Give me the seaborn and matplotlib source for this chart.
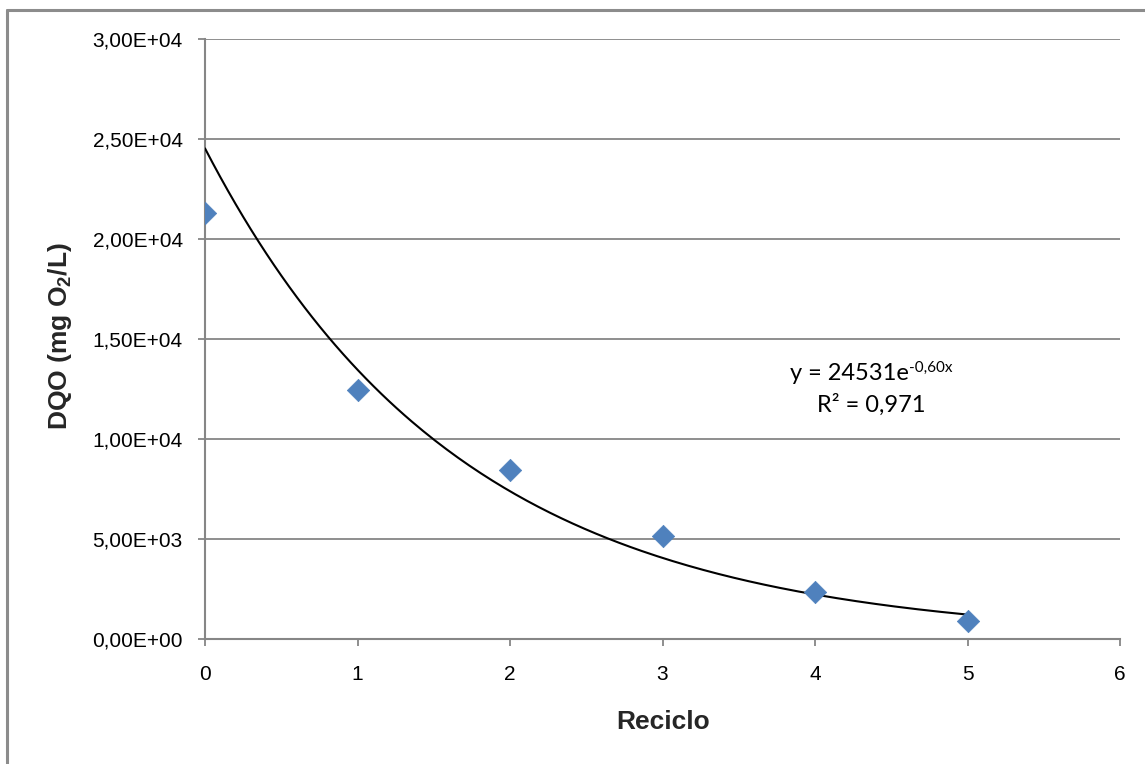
import numpy as np
import pandas as pd
import matplotlib
matplotlib.use("Agg")
import matplotlib.pyplot as plt
from matplotlib.lines import Line2D
import seaborn as sns

# ---- data ----
reciclo = [0, 1, 2, 3, 4, 5]
dqo = [21300, 12450, 8450, 5150, 2350, 900]
trend_a = 24531
trend_b = -0.60
eq_main = "y = 24531e"
eq_exp = "-0,60x"
r2_text = "R² = 0,971"
y_ticks = [0, 5000, 10000, 15000, 20000, 25000, 30000]
y_tick_labels = ["0,00E+00", "5,00E+03", "1,00E+04", "1,50E+04", "2,00E+04", "2,50E+04", "3,00E+04"]
x_ticks = [0, 1, 2, 3, 4, 5, 6]

sns.set_theme(style="white")
plt.rcParams["font.family"] = ["Liberation Sans", "DejaVu Sans"]
plt.rcParams["mathtext.fontset"] = "custom"
plt.rcParams["mathtext.rm"] = "Liberation Sans"
plt.rcParams["mathtext.bf"] = "Liberation Sans:bold"

grid_col = "#868686"
fig = plt.figure(figsize=(11.45, 7.64), dpi=100)
ax = fig.add_axes([205 / 1145, 1 - 639 / 764, (1120 - 205) / 1145, 600 / 764])

df = pd.DataFrame({"Reciclo": reciclo, "DQO": dqo})
xs = np.linspace(min(reciclo), max(reciclo), 200)
trend = pd.DataFrame({"x": xs, "y": trend_a * np.exp(trend_b * xs)})

sns.lineplot(data=trend, x="x", y="y", ax=ax, color="black", linewidth=1.5, zorder=3)
sns.scatterplot(data=df, x="Reciclo", y="DQO", ax=ax, marker="D", s=130,
                color="#4F81BD", edgecolor="#4F81BD", linewidth=0.5, zorder=4)

ax.set_xlim(0, 6)
ax.set_ylim(0, 30000)
ax.set_yticks(y_ticks)
ax.set_yticklabels(y_tick_labels)
ax.set_xticks(x_ticks)
ax.set_xticklabels([str(v) for v in x_ticks])

for y in y_ticks[1:]:
    ax.axhline(y, color=grid_col, linewidth=1.3, zorder=1)

for side in ["top", "right"]:
    ax.spines[side].set_visible(False)
for side in ["left", "bottom"]:
    ax.spines[side].set_color(grid_col)
    ax.spines[side].set_linewidth(1.5)
    ax.spines[side].set_zorder(2)

ax.tick_params(axis="y", which="major", direction="out", length=5, width=1.3,
               color=grid_col, labelsize=15, labelcolor="black", pad=11, left=True)
ax.tick_params(axis="x", which="major", direction="out", length=5, width=1.3,
               color=grid_col, labelsize=15, labelcolor="black", pad=14, bottom=True)

ax.set_xlabel("Reciclo", fontsize=19, fontweight="bold")
ax.set_ylabel(r"DQO (mg O$_{\mathbf{2}}$/L)", fontsize=19, fontweight="bold")
ax.xaxis.set_label_coords((663 - 205) / 915, -(722 - 639) / 600)
ax.yaxis.set_label_coords(-(205 - 60) / 915, (639 - 336) / 600)
ax.xaxis.label.set_va("center")
ax.yaxis.label.set_va("center")

main = ax.text((790 - 205) / 152.5, (639 - 380) * 50, eq_main, ha="left", va="baseline",
               fontsize=17, family="Lato", color="black")
ax.annotate(eq_exp, xy=(1.0, 0.56), xycoords=main, ha="left", va="baseline",
            fontsize=11, family="Lato", color="black")
ax.text((871 - 205) / 152.5, (639 - 412) * 50, r2_text, ha="center", va="baseline",
        fontsize=17, family="Lato", color="black")

# outer chart frame (left and top edges visible in the reference)
frame_col = "#8c8c8c"
fig.add_artist(Line2D([7 / 1145, 7 / 1145], [0, 1 - 10 / 764], color=frame_col, linewidth=2.2,
                      transform=fig.transFigure))
fig.add_artist(Line2D([7 / 1145, 1], [1 - 10 / 764, 1 - 10 / 764], color=frame_col, linewidth=2.2,
                      transform=fig.transFigure))

fig.savefig("out.png", dpi=100)
